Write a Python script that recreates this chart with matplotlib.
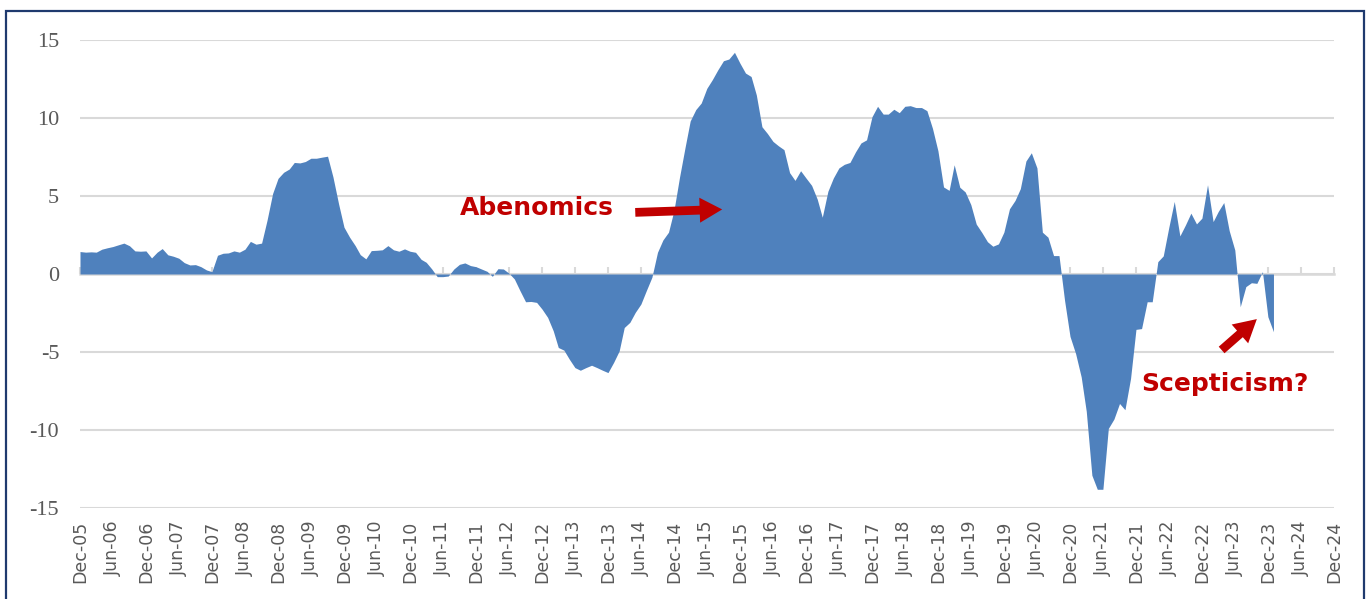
import pandas as pd
import matplotlib
matplotlib.use('Agg')
import matplotlib.pyplot as plt
from matplotlib.patches import Rectangle

# monthly series, Dec-05 onwards
yoy = [1.44, 1.40, 1.42, 1.40, 1.59, 1.68, 1.76, 1.87, 1.98, 1.81, 1.48, 1.46,
       1.48, 1.03, 1.40, 1.63, 1.23, 1.14, 1.01, 0.73, 0.58, 0.60, 0.47, 0.26,
       0.15, 1.20, 1.33, 1.35, 1.48, 1.40, 1.59, 2.09, 1.91, 1.98, 3.44, 5.16,
       6.13, 6.52, 6.73, 7.15, 7.12, 7.21, 7.42, 7.42, 7.49, 7.55, 6.22, 4.50,
       3.00, 2.36, 1.82, 1.24, 0.97, 1.50, 1.52, 1.55, 1.82, 1.55, 1.46, 1.61,
       1.46, 1.39, 0.94, 0.75, 0.32, -0.17, -0.17, -0.13, 0.32, 0.62, 0.71, 0.54,
       0.47, 0.32, 0.17, -0.15, 0.34, 0.32, 0.05, -0.32, -1.07, -1.78, -1.76, -1.82,
       -2.25, -2.78, -3.64, -4.71, -4.88, -5.46, -6.00, -6.17, -6.00, -5.85, -6.00, -6.17,
       -6.32, -5.67, -4.93, -3.43, -3.10, -2.46, -1.93, -1.07, -0.21, 1.39, 2.18, 2.68,
       4.07, 6.21, 8.14, 9.81, 10.54, 10.96, 11.90, 12.45, 13.09, 13.67, 13.78, 14.21,
       13.52, 12.88, 12.66, 11.48, 9.44, 9.01, 8.50, 8.22, 7.97, 6.50, 6.00, 6.62,
       6.15, 5.68, 4.80, 3.64, 5.30, 6.15, 6.80, 7.03, 7.15, 7.83, 8.40, 8.60,
       10.08, 10.75, 10.25, 10.25, 10.56, 10.34, 10.75, 10.79, 10.67, 10.67, 10.47, 9.33,
       7.90, 5.58, 5.36, 7.00, 5.56, 5.26, 4.45, 3.20, 2.66, 2.07, 1.78, 1.93,
       2.68, 4.18, 4.72, 5.47, 7.24, 7.77, 6.80, 2.68, 2.36, 1.18, 1.18, -1.70,
       -4.00, -5.10, -6.60, -8.80, -12.90, -13.80, -13.80, -9.90, -9.30, -8.30, -8.70, -6.70,
       -3.55, -3.50, -1.78, -1.78, 0.79, 1.16, 3.00, 4.65, 2.44, 3.15, 3.90, 3.21,
       3.58, 5.72, 3.36, 4.00, 4.58, 2.78, 1.54, -2.10, -0.81, -0.56, -0.60, 0.15,
       -2.74, -3.70]
start_month = '2005-12-01'
end_month = '2024-12-01'
y_ticks = [-15, -10, -5, 0, 5, 10, 15]

# annotation anchors: (text pos, arrow tail, arrow tip)
abe_text = ('2012-11-01', 4.2)
abe_tail = ('2014-05-01', 3.95)
abe_tip = ('2015-08-25', 4.14)
sce_text = ('2023-04-10', -7.06)
sce_tail = ('2023-03-20', -4.87)
sce_tip = ('2023-10-01', -2.89)

blue = '#4F81BD'
red = '#C00000'
grid_c = '#D9D9D9'
txt_c = '#595959'

dates = pd.date_range(start_month, periods=len(yoy), freq='MS')
tick_dates = pd.date_range(start_month, end_month, freq='6MS')

fig = plt.figure(figsize=(13.66, 5.99), dpi=100)
ax = fig.add_axes([80/1366, 1-508/599, (1334-80)/1366, (508-40)/599])

ax.fill_between(dates, yoy, 0, color=blue, linewidth=0, zorder=2)

ax.set_xlim(pd.Timestamp(start_month), pd.Timestamp(end_month))
ax.set_ylim(-15, 15)
ax.set_yticks(y_ticks)
ax.set_yticklabels([str(v) for v in y_ticks], family='Liberation Serif',
                   fontsize=16, color=txt_c)
ax.grid(axis='y', color=grid_c, linewidth=1.5, zorder=0)
ax.set_axisbelow(True)

ax.set_xticks(tick_dates)
ax.set_xticklabels([d.strftime('%b-%y') for d in tick_dates], rotation=90,
                   fontsize=12.5, color=txt_c, family='DejaVu Sans')
ax.tick_params(axis='x', length=0, pad=9)
ax.tick_params(axis='y', length=0, pad=15)
for s in ax.spines.values():
    s.set_visible(False)

# horizontal axis line sits at zero, with small tick marks
zax = ax.secondary_xaxis(0.5)
zax.set_xticks(tick_dates)
zax.set_xticklabels([])
zax.tick_params(length=5, width=1.5, color=grid_c, direction='out')
for k, s in zax.spines.items():
    s.set_visible(k == 'bottom')
zax.spines['bottom'].set_color(grid_c)
zax.spines['bottom'].set_linewidth(1.8)

def dt(p):
    return (pd.Timestamp(p[0]), p[1])

ax.text(*dt(abe_text), 'Abenomics', color=red, fontsize=18, fontweight='bold',
        ha='center', va='center', zorder=5)
ax.text(*dt(sce_text), 'Scepticism?', color=red, fontsize=18, fontweight='bold',
        ha='center', va='center', zorder=5)
arrow = dict(arrowstyle='simple,head_length=0.9,head_width=1.0,tail_width=0.35',
             fc=red, ec='none', mutation_scale=18, shrinkA=0, shrinkB=0)
ax.annotate('', xy=dt(abe_tip), xytext=dt(abe_tail), arrowprops=arrow, zorder=5)
ax.annotate('', xy=dt(sce_tip), xytext=dt(sce_tail), arrowprops=arrow, zorder=5)

# frame round the whole chart
fig.patches.append(Rectangle((6/1366, -0.05), (1364-6)/1366, 1.05-11/599,
                             transform=fig.transFigure, fill=False,
                             edgecolor='#1F3A6E', linewidth=1.6))

fig.savefig('out.png', dpi=100)
